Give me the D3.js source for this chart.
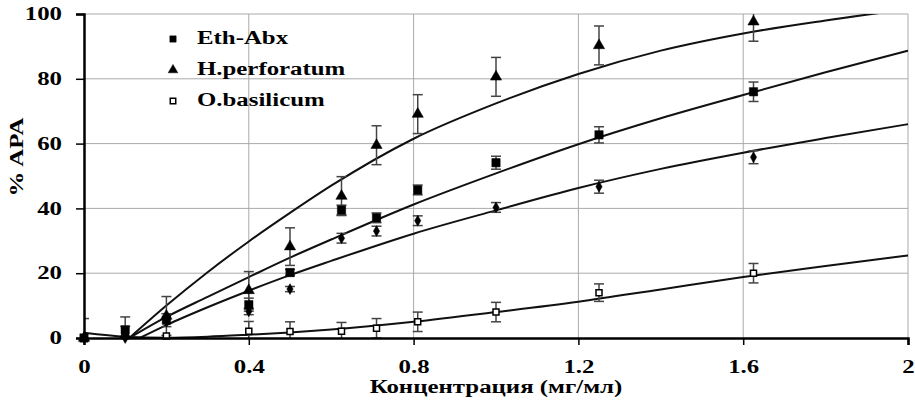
<!DOCTYPE html>
<html>
<head>
<meta charset="utf-8">
<script src="https://cdn.jsdelivr.net/npm/d3@7"></script>
<style>
  body { margin: 0; background: #fff; }
  svg text { font-family: "Liberation Serif", "Times New Roman", serif !important; font-weight: bold; }
</style>
</head>
<body>
<div id="chart"></div>
<script>
// measured concentrations (mg/ml)
var conc = [0, 0.1, 0.2, 0.4, 0.5, 0.625, 0.71, 0.81, 1.0, 1.25, 1.625];
var ethAbx = [0, 2.5, 5.5, 10.3, 20.2, 39.5, 37.1, 45.7, 54.1, 62.7, 76];
var ethAbxErr = [0, 4, 2, 2, 1, 1.5, 1.5, 1.5, 2, 2.5, 3];
var hPerf = [0, 1, 6.8, 14.7, 28.2, 43.8, 59.5, 69.1, 80.6, 90.3, 97.6];
var hPerfErr = [6, 0, 6, 5.8, 5.8, 6, 6, 6, 6, 6, 6];
var oBas = [0, 0.6, 0.6, 2.1, 2, 2.1, 3, 5, 8, 14, 20];
var oBasErr = [0, 3, 0, 3, 3, 2.7, 3, 3, 3, 2.7, 3];
var fourth = [0, 0, 5, 8.2, 15.1, 30.8, 33, 36.2, 40.3, 46.7, 55.8];
var fourthErr = [0, 0, 0, 1, 0.8, 1.5, 1.5, 1.5, 1.5, 2, 2];

// fitted curves
var fitTopX = [0.11, 0.2, 0.3, 0.4, 0.5, 0.6, 0.8, 1.0, 1.2, 1.4, 1.6, 1.8, 2.0];
var fitTopY = [0, 10, 20.3, 29.8, 38.6, 47, 61.5, 72.4, 81.5, 88.7, 94, 98, 101.5];
var fitEthX = [0.11, 0.2, 0.3, 0.4, 0.5, 0.6, 0.8, 1.0, 1.2, 1.4, 1.6, 1.8, 2.0];
var fitEthY = [0, 6.5, 12.7, 18.8, 24.8, 30.4, 41.2, 50.8, 59.8, 67.8, 75, 82, 88.7];
var fitFourX = [0.135, 0.2, 0.3, 0.4, 0.5, 0.6, 0.8, 1.0, 1.2, 1.4, 1.6, 1.8, 2.0];
var fitFourY = [0, 4, 9.5, 14.6, 19.4, 23.8, 32.2, 39.4, 46.3, 52.2, 57.2, 61.7, 66];
var fitBasX = [0, 0.1, 0.2, 0.3, 0.4, 0.5, 0.6, 0.8, 1.0, 1.2, 1.4, 1.6, 1.8, 2.0];
var fitBasY = [1.6, 0.4, 0.1, 0.4, 1.0, 1.7, 2.6, 5, 8, 11.2, 15, 18.8, 22.2, 25.5];

var xTicks = [0, 0.4, 0.8, 1.2, 1.6, 2];
var yTicks = [0, 20, 40, 60, 80, 100];
var legendNames = ["Eth-Abx", "H.perforatum", "O.basilicum"];

var width = 915, height = 400;
var margin = { top: 14, right: 7, bottom: 62, left: 84 };
var stretch = 1.38; // glyphs in the picture are wider than plain Times
var font = "'Liberation Serif', 'Times New Roman', serif";

var svg = d3.select("#chart").append("svg")
  .attr("width", width)
  .attr("height", height);

var x = d3.scaleLinear().domain([0, 2]).range([margin.left, width - margin.right]);
var y = d3.scaleLinear().domain([0, 100]).range([height - margin.bottom, margin.top]);

svg.append("defs").append("clipPath").attr("id", "plot")
  .append("rect")
  .attr("x", x(0)).attr("y", y(100))
  .attr("width", x(2) - x(0)).attr("height", y(0) - y(100));

// grid
svg.append("g").selectAll("line")
  .data(yTicks.slice(1))
  .join("line")
  .attr("x1", x(0)).attr("x2", x(2))
  .attr("y1", d => y(d)).attr("y2", d => y(d))
  .attr("stroke", "#aaa").attr("stroke-width", 1);
svg.append("g").selectAll("line")
  .data(xTicks.slice(1))
  .join("line")
  .attr("x1", d => x(d)).attr("x2", d => x(d))
  .attr("y1", y(0)).attr("y2", y(100))
  .attr("stroke", "#aaa").attr("stroke-width", 1);

// curves
var line = d3.line().x(d => x(d[0])).y(d => y(d[1])).curve(d3.curveMonotoneX);
var fits = [[fitTopX, fitTopY], [fitEthX, fitEthY], [fitFourX, fitFourY], [fitBasX, fitBasY]];
svg.append("g").attr("clip-path", "url(#plot)")
  .selectAll("path")
  .data(fits)
  .join("path")
  .attr("d", f => line(d3.zip(f[0], f[1])))
  .attr("fill", "none")
  .attr("stroke", "#111")
  .attr("stroke-width", 2);

// error bars
function errorBars(vals, errs) {
  var pts = conc.map((c, i) => ({ c: c, v: vals[i], e: errs[i] })).filter(d => d.e > 0);
  var g = svg.append("g").attr("clip-path", "url(#plot)")
    .attr("stroke", "#444").attr("stroke-width", 1.5);
  g.selectAll("line.v").data(pts).join("line").attr("class", "v")
    .attr("x1", d => x(d.c)).attr("x2", d => x(d.c))
    .attr("y1", d => y(d.v - d.e)).attr("y2", d => y(d.v + d.e));
  g.selectAll("line.t").data(pts).join("line").attr("class", "t")
    .attr("x1", d => x(d.c) - 5).attr("x2", d => x(d.c) + 5)
    .attr("y1", d => y(d.v + d.e)).attr("y2", d => y(d.v + d.e));
  g.selectAll("line.b").data(pts).join("line").attr("class", "b")
    .attr("x1", d => x(d.c) - 5).attr("x2", d => x(d.c) + 5)
    .attr("y1", d => y(d.v - d.e)).attr("y2", d => y(d.v - d.e));
}
errorBars(oBas, oBasErr);
errorBars(fourth, fourthErr);
errorBars(ethAbx, ethAbxErr);
errorBars(hPerf, hPerfErr);

// markers
function markers(vals, type, size, open) {
  svg.append("g").selectAll("path")
    .data(conc.map((c, i) => [c, vals[i]]))
    .join("path")
    .attr("transform", d => "translate(" + x(d[0]) + "," + y(d[1]) + ")")
    .attr("d", d3.symbol().type(type).size(size))
    .attr("fill", open ? "#fff" : "#000")
    .attr("stroke", "#000")
    .attr("stroke-width", open ? 1.5 : 0.5);
}
markers(oBas, d3.symbolSquare, 36, true);
markers(fourth, d3.symbolDiamond, 34, false);
markers(ethAbx, d3.symbolSquare, 70, false);
markers(hPerf, d3.symbolTriangle, 55, false);

// axes
var yAxis = svg.append("g")
  .attr("transform", "translate(" + x(0) + ",0)")
  .call(d3.axisLeft(y).tickValues(yTicks).tickSize(8).tickPadding(14).tickFormat(d3.format("d")));
var xAxis = svg.append("g")
  .attr("transform", "translate(0," + y(0) + ")")
  .call(d3.axisBottom(x).tickValues(xTicks).tickSize(7).tickPadding(15).tickFormat(d => d));
[yAxis, xAxis].forEach(function (a) {
  a.attr("font-family", font).attr("font-size", 18);
  a.select(".domain").attr("stroke", "#000").attr("stroke-width", 2.5);
  a.selectAll(".tick line").attr("stroke", "#000").attr("stroke-width", 1.5);
  a.selectAll("text").attr("fill", "#000");
});

// axis titles
svg.append("text")
  .attr("x", x(1)).attr("y", 393)
  .attr("text-anchor", "middle")
  .attr("font-size", 18)
  .text("Концентрация (мг/мл)");
svg.append("text")
  .attr("transform", "translate(23," + 157 + ") rotate(-90)")
  .attr("text-anchor", "middle")
  .attr("font-size", 18)
  .text("% APA");

// legend
var legend = svg.append("g").attr("transform", "translate(173,39)");
var legTypes = [d3.symbolSquare, d3.symbolTriangle, d3.symbolSquare];
legendNames.forEach(function (name, i) {
  var row = legend.append("g").attr("transform", "translate(0," + i * 31 + ")");
  row.append("path")
    .attr("d", d3.symbol().type(legTypes[i]).size(i == 2 ? 30 : 40))
    .attr("fill", i == 2 ? "#fff" : "#000")
    .attr("stroke", "#000")
    .attr("stroke-width", i == 2 ? 1.5 : 0.5);
  row.append("text")
    .attr("x", 24).attr("y", 5)
    .attr("font-size", 18)
    .text(name);
});

// widen the glyphs like in the picture
svg.selectAll("text")
  .style("font-family", font)
  .style("font-weight", "bold")
  .each(function () {
    var len = this.getComputedTextLength();
    d3.select(this).attr("textLength", len * stretch).attr("lengthAdjust", "spacingAndGlyphs");
  });
</script>
</body>
</html>
